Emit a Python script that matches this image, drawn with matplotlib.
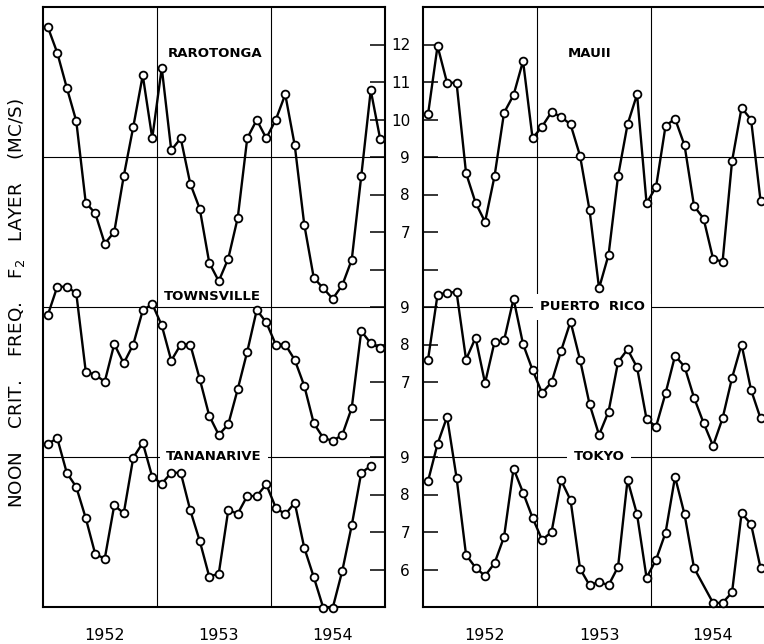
import numpy as np
import matplotlib.pyplot as plt

nan = np.nan
years = ['1952', '1953', '1954']

# noon critical frequency of the F2 layer (Mc/s), monthly Jan 1952 - Dec 1954
rarotonga = [12.47, 11.78, 10.85, 9.96, 7.78, 7.50, 6.69, 7.00, 8.49, 9.80, 11.18, 9.50,
             11.38, 9.18, 9.50, 8.29, 7.62, 6.18, 5.69, 6.29, 7.38, 9.50, 9.99, 9.50,
             9.99, 10.67, 9.31, 7.20, 5.78, 5.50, 5.22, 5.58, 6.26, 8.49, 10.78, 9.47]
townsville = [8.78, 9.54, 9.54, 9.37, 7.28, 7.19, 7.01, 8.01, 7.50, 8.00, 8.91, 9.08,
              8.51, 7.57, 8.00, 8.00, 7.08, 6.10, 5.59, 5.87, 6.81, 7.81, 8.92, 8.59,
              8.00, 8.00, 7.59, 6.90, 5.90, 5.51, 5.43, 5.59, 6.31, 8.36, 8.03, 7.90]
tananarive = [9.35, 9.50, 8.58, 8.20, 7.37, 6.41, 6.29, 7.71, 7.50, 8.98, 9.38, 8.47,
              8.29, 8.58, 8.58, 7.58, 6.76, 5.81, 5.89, 7.58, 7.49, 7.96, 7.96, 8.27,
              7.65, 7.47, 7.78, 6.58, 5.80, 4.98, 4.98, 5.96, 7.18, 8.58, 8.76, nan]
maui = [10.14, 11.96, 10.98, 10.98, 8.57, 7.78, 7.27, 8.49, 10.18, 10.65, 11.56, 9.50,
        9.81, 10.20, 10.07, 9.87, 9.03, 7.58, 5.50, 6.39, 8.49, 9.87, 10.67, 7.77,
        8.20, 9.83, 10.02, 9.31, 7.69, 7.36, 6.29, 6.20, 8.89, 10.31, 10.00, 7.83]
puerto_rico = [7.60, 9.33, 9.38, 9.40, 7.60, 8.18, 6.97, 8.07, 8.11, 9.22, 8.01, 7.32,
               6.71, 6.99, 7.83, 8.61, 7.59, 6.41, 5.59, 6.21, 7.53, 7.87, 7.39, 6.01,
               5.81, 6.70, 7.70, 7.41, 6.58, 5.91, 5.30, 6.03, 7.11, 8.00, 6.79, 6.03]
tokyo = [8.36, 9.35, 10.07, 8.45, 6.39, 6.05, 5.83, 6.17, 6.87, 8.69, 8.05, 7.38,
         6.79, 7.00, 8.38, 7.85, 6.02, 5.58, 5.67, 5.58, 6.07, 8.39, 7.47, 5.78,
         6.26, 6.98, 8.47, 7.47, 6.04, nan, 5.11, 5.11, 5.39, 7.50, 7.21, 6.04]

left_series = [rarotonga, townsville, tananarive]
right_series = [maui, puerto_rico, tokyo]
left_names = ['RAROTONGA', 'TOWNSVILLE', 'TANANARIVE']
right_names = ['MAUII', 'PUERTO  RICO', 'TOKYO']
shifts = [0, 4, 8]  # each lower station is drawn 4 Mc/s lower

tick_vals = [[12, 11, 10, 9, 8, 7, 6], [9, 8, 7, 6], [9, 8, 7, 6]]
tick_text = [['12', '11', '10', '9', '8', '7', ''], ['9', '8', '7', ''], ['9', '8', '7', '6']]

# label placement (month, shifted value) and whether the label cuts the line
left_lab = [(18.1, 11.77, False), (17.85, 5.27, False), (18.0, 1.0, True)]
right_lab = [(17.55, 11.77, False), (17.8, 5.0, True), (18.5, 1.0, True)]

fig = plt.figure(figsize=(7.64, 6.44), dpi=100)
ax1 = fig.add_axes([43 / 764, 1 - 607 / 644, 342 / 764, 600 / 644])
ax2 = fig.add_axes([423.3 / 764, 1 - 607 / 644, 342 / 764, 600 / 644])

ypos = [v - s for s, vals in zip(shifts, tick_vals) for v in vals]
ylabs = [t for txts in tick_text for t in txts]
months = np.arange(36) + 0.5

for ax, series, names, labs in [(ax1, left_series, left_names, left_lab),
                                 (ax2, right_series, right_names, right_lab)]:
    ax.set_xlim(0, 36)
    ax.set_ylim(-3, 13)
    for s in shifts:
        ax.axhline(9 - s, color='black', lw=0.8, zorder=1)
    for xb in [12, 24]:
        ax.axvline(xb, color='black', lw=0.8, zorder=1)
    for vals, s in zip(series, shifts):
        v = np.array(vals) - s
        ok = ~np.isnan(v)
        ax.plot(months[ok], v[ok], '-o', color='black', lw=1.7, ms=5.6,
                mfc='white', mec='black', mew=1.3, zorder=3, clip_on=False)
    for name, (lx, ly, boxed) in zip(names, labs):
        kw = {}
        if boxed:
            kw['bbox'] = dict(boxstyle='square,pad=0.5', fc='white', ec='none')
        ax.text(lx, ly, name, ha='center', va='center', fontsize=9.5,
                fontweight='bold', zorder=2, **kw)
    ax.set_xticks([6.5, 18.5, 30.5])
    ax.set_xticklabels(years, fontsize=11.5)
    ax.tick_params(axis='x', length=0, pad=15)
    ax.set_yticks(ypos)
    for sp in ax.spines.values():
        sp.set_linewidth(1.5)

ax1.tick_params(axis='y', direction='in', length=10.5, width=1.1,
                left=False, right=True, labelleft=False, labelright=False)
ax2.tick_params(axis='y', direction='in', length=10.5, width=1.1,
                left=True, right=False, labelleft=True, labelsize=11, pad=9.5)
ax2.set_yticklabels(ylabs)

fig.text(0.0216, 1 - 303 / 644, 'NOON    CRIT.    FREQ.    F$_2$   LAYER    (MC/S)',
         rotation=90, ha='center', va='center', fontsize=13.2)

fig.savefig('out.png', dpi=100)
